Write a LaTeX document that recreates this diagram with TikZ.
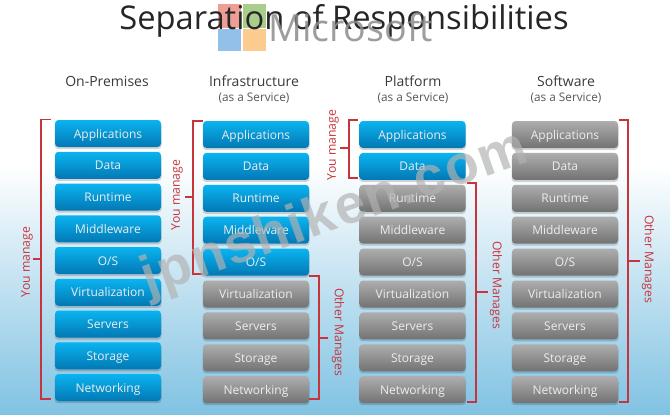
\documentclass[tikz,border=0pt]{standalone}
\usepackage{fontspec}
\setmainfont{Open Sans}
\newfontfamily\wmfont[LetterSpace=3]{Liberation Sans}
\usetikzlibrary{calc}
\definecolor{bluetop}{HTML}{0AB4F0}
\definecolor{bluemid}{HTML}{0A9CD8}
\definecolor{bluebot}{HTML}{0278B4}
\definecolor{greytop}{HTML}{AEAEAE}
\definecolor{greymid}{HTML}{979797}
\definecolor{greybot}{HTML}{727272}
\definecolor{bracketred}{HTML}{C8343C}
\definecolor{headink}{HTML}{3A3A3A}
\definecolor{bgbottom}{HTML}{80C2E2}
\definecolor{logored}{HTML}{EE9E94}
\definecolor{logogreen}{HTML}{A9CE8C}
\definecolor{logoblue}{HTML}{93C0E8}
\definecolor{logoorange}{HTML}{FCCB90}
\tikzset{
  x=1pt,y=-1pt,
  layerbox/.style={minimum width=106pt,minimum height=27pt,inner sep=0pt,rounded corners=3.5pt,
    text height=10pt,text depth=1pt,
    font=\fontsize{12}{14}\selectfont,text=white!93!black},
  youbox/.style={layerbox,top color=bluetop,middle color=bluemid,bottom color=bluebot},
  otherbox/.style={layerbox,top color=greytop,middle color=greymid,bottom color=greybot},
  bracket/.style={draw=bracketred,line width=1.1pt},
  sidelabel/.style={text=bracketred,font=\fontsize{12.2}{14}\selectfont,inner sep=0pt},
  colhead/.style={text=headink,font=\fontsize{14}{16}\selectfont,inner sep=0pt},
  colsub/.style={text=headink!85,font=\fontsize{11.8}{14}\selectfont,inner sep=0pt},
}
\newcommand{\boxcolumn}[5]{% prefix, centre x, top y, pitch, number of blue boxes
  \foreach \lab [count=\i] in {Applications,Data,Runtime,Middleware,O/S,Virtualization,Servers,Storage,Networking}{%
    \pgfmathsetmacro{\cy}{#3+13.5+(\i-1)*#4}
    \ifnum\i>#5 \def\sty{otherbox}\else\def\sty{youbox}\fi
    \fill[black,opacity=.16,rounded corners=3.5pt] (#2-53.5,\cy-11) rectangle (#2+53.5,\cy+15.5);
    \node[\sty] (#1\i) at (#2,\cy) {\lab};
  }%
}
\begin{document}
\begin{tikzpicture}
\useasboundingbox (0,0) rectangle (670,415);
\fill[white] (0,0) rectangle (670,165);
\shade[top color=white,bottom color=bgbottom] (0,165) rectangle (670,415);

\fill[logored] (217.5,4) rectangle (240.5,27.5);
\fill[logogreen] (243,4) rectangle (265.5,27.5);
\fill[logoblue] (217.5,29) rectangle (240.5,51);
\fill[logoorange] (243,29) rectangle (265.5,51);
\node[anchor=base,inner sep=0pt,text=black!85,font=\fontsize{32.7}{40}\selectfont] (title) at (344,29) {Separation of Responsibilities};
\node[anchor=base west,inner sep=0pt,text=black!45,opacity=.85,font=\fontsize{37.5}{44}\selectfont] (ms) at (268,41.5) {Microsoft};

\node[colhead] (h1) at (107,81) {On-Premises};
\node[colhead] (h2) at (254,81) {Infrastructure};
\node[colsub]  (s2) at (254,98) {(as a Service)};
\node[colhead] (h3) at (413,81) {Platform};
\node[colsub]  (s3) at (413,98) {(as a Service)};
\node[colhead] (h4) at (566,81) {Software};
\node[colsub]  (s4) at (566,98) {(as a Service)};

\boxcolumn{a}{108}{120}{31.75}{9}
\boxcolumn{b}{256}{121}{31.9}{5}
\boxcolumn{c}{412.5}{121}{31.9}{2}
\boxcolumn{d}{565}{121}{31.9}{0}

% You manage, on-premises
\coordinate (a1t) at (51,119.5); \coordinate (a1b) at (51,399); \coordinate (a1m) at (33,259);
\draw[bracket] (a1t) -| (41,399) -- (a1b);
\draw[bracket] (41,259) -- (a1m);
\node[sidelabel,rotate=90] (y1) at (27,262) {You manage};
% You manage, infrastructure
\coordinate (b1t) at (203,121); \coordinate (b1b) at (203,274); \coordinate (b1m) at (185,197);
\draw[bracket] (b1t) -| (193,274) -- (b1b);
\draw[bracket] (193,197) -- (b1m);
\node[sidelabel,rotate=90] (y2) at (177,195) {You manage};
% Other manages, infrastructure
\coordinate (b2t) at (309,276); \coordinate (b2b) at (309,399); \coordinate (b2m) at (328,338);
\draw[bracket] (b2t) -| (319,399) -- (b2b);
\draw[bracket] (319,338) -- (b2m);
\node[sidelabel,rotate=-90] (o2) at (338,332) {Other Manages};
% You manage, platform
\coordinate (c1t) at (358,120); \coordinate (c1b) at (358,178); \coordinate (c1m) at (340,148);
\draw[bracket] (c1t) -| (349,178) -- (c1b);
\draw[bracket] (349,148) -- (c1m);
\node[sidelabel,rotate=90] (y3) at (333,145) {You manage};
% Other manages, platform
\coordinate (c2t) at (467,183); \coordinate (c2b) at (467,402); \coordinate (c2m) at (488,292);
\draw[bracket] (c2t) -| (476,402) -- (c2b);
\draw[bracket] (476,292) -- (c2m);
\node[sidelabel,rotate=-90] (o3) at (496,285) {Other Manages};
% Other manages, software
\coordinate (d1t) at (619,120); \coordinate (d1b) at (619,402); \coordinate (d1m) at (640,261);
\draw[bracket] (d1t) -| (628,402) -- (d1b);
\draw[bracket] (628,261) -- (d1m);
\node[sidelabel,rotate=-90] (o4) at (648,259) {Other Manages};

\node[inner sep=0pt,text=black!30,opacity=.68,rotate=19.5,font=\wmfont\bfseries\fontsize{55}{66}\selectfont] (wm) at (335,215) {jpnshiken.com};
\end{tikzpicture}
\end{document}
